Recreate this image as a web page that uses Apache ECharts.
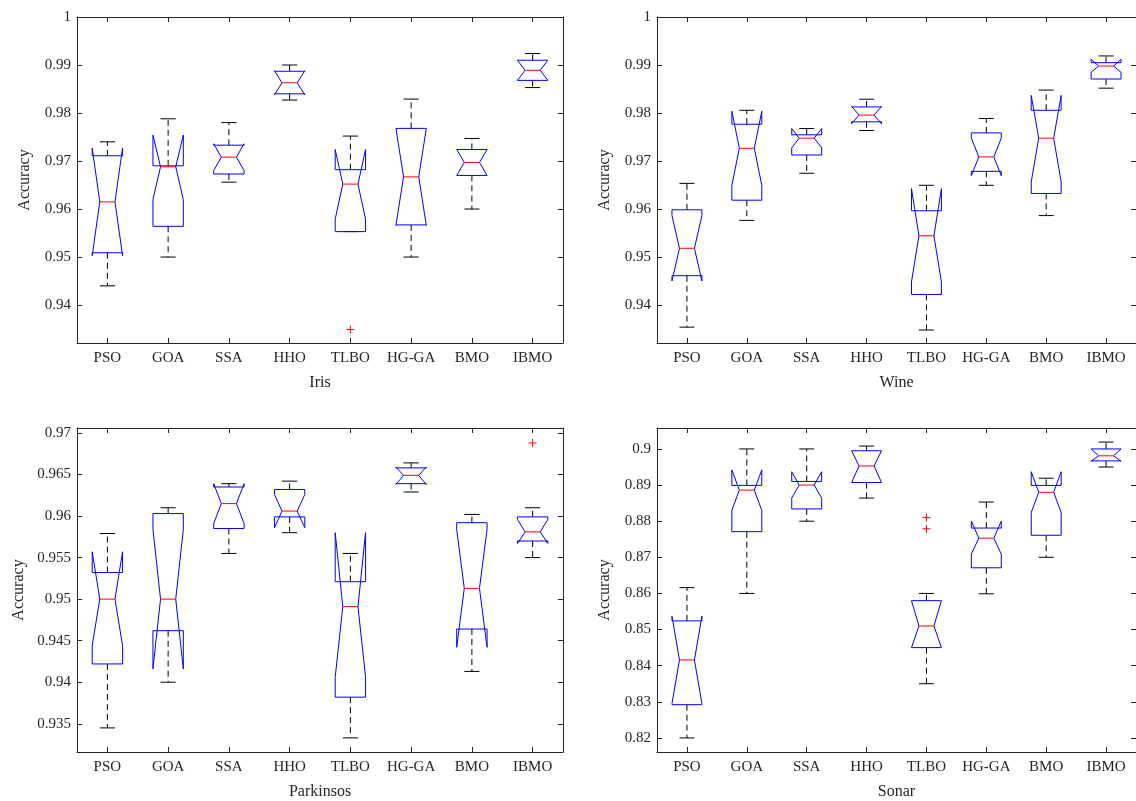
<!DOCTYPE html>
<html><head><meta charset="utf-8">
<script src="https://cdn.jsdelivr.net/npm/echarts@6/dist/echarts.min.js"></script>
<style>html,body{margin:0;padding:0;background:#fff}#c{width:1136px;height:801px}</style>
</head><body><div id="c"></div>
<script>
const categories = ['PSO','GOA','SSA','HHO','TLBO','HG-GA','BMO','IBMO'];

// each row: [lowerWhisker, q1, notchLow, median, notchHigh, q3, upperWhisker]
const irisStats = [
  [0.9440, 0.9509, 0.9503, 0.9615, 0.9727, 0.9711, 0.9740],
  [0.9500, 0.9564, 0.9620, 0.9688, 0.9754, 0.9690, 0.9788],
  [0.9656, 0.9673, 0.9680, 0.9708, 0.9736, 0.9733, 0.9780],
  [0.9827, 0.9840, 0.9838, 0.9863, 0.9888, 0.9887, 0.9900],
  [0.9553, 0.9553, 0.9579, 0.9652, 0.9724, 0.9682, 0.9752],
  [0.9500, 0.9567, 0.9566, 0.9667, 0.9768, 0.9768, 0.9829],
  [0.9600, 0.9670, 0.9670, 0.9697, 0.9724, 0.9724, 0.9747],
  [0.9853, 0.9868, 0.9868, 0.9889, 0.9910, 0.9910, 0.9924]
];
const irisOutliers = [[4, 0.9349]];
const irisTicks = [0.94, 0.95, 0.96, 0.97, 0.98, 0.99, 1];

const wineStats = [
  [0.9355, 0.9462, 0.9451, 0.9519, 0.9587, 0.9599, 0.9654],
  [0.9577, 0.9619, 0.9650, 0.9727, 0.9804, 0.9777, 0.9806],
  [0.9675, 0.9713, 0.9728, 0.9748, 0.9768, 0.9755, 0.9768],
  [0.9764, 0.9782, 0.9778, 0.9796, 0.9814, 0.9813, 0.9829],
  [0.9349, 0.9423, 0.9449, 0.9545, 0.9643, 0.9597, 0.9650],
  [0.9650, 0.9679, 0.9670, 0.9709, 0.9748, 0.9759, 0.9789],
  [0.9587, 0.9633, 0.9657, 0.9748, 0.9837, 0.9806, 0.9848],
  [0.9852, 0.9871, 0.9885, 0.9898, 0.9912, 0.9905, 0.9919]
];
const wineOutliers = [];
const wineTicks = [0.94, 0.95, 0.96, 0.97, 0.98, 0.99, 1];

const parkinsosStats = [
  [0.9345, 0.9422, 0.9444, 0.9500, 0.9557, 0.9532, 0.9579],
  [0.9400, 0.9462, 0.9416, 0.9500, 0.9584, 0.9603, 0.9610],
  [0.9555, 0.9585, 0.9591, 0.9615, 0.9639, 0.9635, 0.9639],
  [0.9580, 0.9599, 0.9586, 0.9606, 0.9626, 0.9632, 0.9642],
  [0.9333, 0.9382, 0.9406, 0.9491, 0.9580, 0.9521, 0.9555],
  [0.9629, 0.9639, 0.9638, 0.9649, 0.9659, 0.9658, 0.9664],
  [0.9413, 0.9464, 0.9442, 0.9513, 0.9584, 0.9592, 0.9602],
  [0.9550, 0.9570, 0.9567, 0.9581, 0.9596, 0.9599, 0.9610]
];
const parkinsosOutliers = [[7, 0.9688]];
const parkinsosTicks = [0.935, 0.94, 0.945, 0.95, 0.955, 0.96, 0.965, 0.97];

const sonarStats = [
  [0.8200, 0.8292, 0.8295, 0.8416, 0.8537, 0.8524, 0.8616],
  [0.8600, 0.8771, 0.8830, 0.8886, 0.8942, 0.8899, 0.9000],
  [0.8800, 0.8834, 0.8864, 0.8900, 0.8937, 0.8910, 0.9000],
  [0.8864, 0.8907, 0.8907, 0.8953, 0.8995, 0.8995, 0.9008],
  [0.8350, 0.8450, 0.8450, 0.8510, 0.8580, 0.8580, 0.8600],
  [0.8599, 0.8671, 0.8709, 0.8753, 0.8800, 0.8781, 0.8853],
  [0.8700, 0.8761, 0.8824, 0.8880, 0.8937, 0.8899, 0.8919],
  [0.8950, 0.8967, 0.8966, 0.8981, 0.9000, 0.9000, 0.9019]
];
const sonarOutliers = [[4, 0.8810], [4, 0.8779]];
const sonarTicks = [0.82, 0.83, 0.84, 0.85, 0.86, 0.87, 0.88, 0.89, 0.9];

const panels = [
  {title: 'Iris', stats: irisStats, outliers: irisOutliers, ticks: irisTicks, min: 0.9321, max: 1, left: 77, top: 17, height: 326},
  {title: 'Wine', stats: wineStats, outliers: wineOutliers, ticks: wineTicks, min: 0.9322, max: 1, left: 657, top: 17, height: 326},
  {title: 'Parkinsos', stats: parkinsosStats, outliers: parkinsosOutliers, ticks: parkinsosTicks, min: 0.9316, max: 0.9706, left: 77, top: 428, height: 325},
  {title: 'Sonar', stats: sonarStats, outliers: sonarOutliers, ticks: sonarTicks, min: 0.8161, max: 0.9058, left: 657, top: 428, height: 325}
];

const FONT = '"Liberation Serif", "Times New Roman", serif';
const AX = '#262626';

function renderBox(params, api) {
  const ci = api.value(0);
  const v = k => api.value(k);
  const low = v(1), q1 = v(2), nlo = v(3), med = v(4), nhi = v(5), q3 = v(6), high = v(7);
  const x = api.coord([ci, med])[0];
  const Y = val => api.coord([ci, val])[1];
  const bw = api.size([1, 0])[0] * 0.5;
  const h = bw / 2, inset = bw * 0.25, cap = bw * 0.25;
  const dash = {stroke: '#000', lineWidth: 1, lineDash: [6, 4], fill: null};
  const solid = {stroke: '#000', lineWidth: 1, fill: null};
  const pts = [
    [x - h, Y(q1)], [x - h, Y(nlo)], [x - h + inset, Y(med)], [x - h, Y(nhi)], [x - h, Y(q3)],
    [x + h, Y(q3)], [x + h, Y(nhi)], [x + h - inset, Y(med)], [x + h, Y(nlo)], [x + h, Y(q1)]
  ];
  return {
    type: 'group',
    children: [
      {type: 'line', shape: {x1: x, y1: Y(q3), x2: x, y2: Y(high)}, style: dash},
      {type: 'line', shape: {x1: x, y1: Y(q1), x2: x, y2: Y(low)}, style: dash},
      {type: 'line', shape: {x1: x - cap, y1: Y(high), x2: x + cap, y2: Y(high)}, style: solid},
      {type: 'line', shape: {x1: x - cap, y1: Y(low), x2: x + cap, y2: Y(low)}, style: solid},
      {type: 'polygon', shape: {points: pts}, style: {stroke: '#0000ff', lineWidth: 1, fill: null}},
      {type: 'line', shape: {x1: x - h + inset, y1: Y(med), x2: x + h - inset, y2: Y(med)}, style: {stroke: '#ff0000', lineWidth: 1}}
    ]
  };
}

function renderOutlier(params, api) {
  const p = api.coord([api.value(0), api.value(1)]);
  const s = 4;
  const st = {stroke: '#ff0000', lineWidth: 1};
  return {
    type: 'group',
    children: [
      {type: 'line', shape: {x1: p[0] - s, y1: p[1], x2: p[0] + s, y2: p[1]}, style: st},
      {type: 'line', shape: {x1: p[0], y1: p[1] - s, x2: p[0], y2: p[1] + s}, style: st}
    ]
  };
}

const grid = [], xAxis = [], yAxis = [], series = [];
panels.forEach((p, i) => {
  grid.push({left: p.left, top: p.top, width: 486, height: p.height});
  const tickBase = () => ({show: true, inside: true, length: 5, lineStyle: {color: AX, width: 1}});
  xAxis.push({
    type: 'category', gridIndex: i, data: categories, position: 'bottom',
    axisLine: {show: true, lineStyle: {color: AX, width: 1}},
    axisTick: Object.assign(tickBase(), {alignWithLabel: true, interval: 0}),
    axisLabel: {show: true, interval: 0, fontFamily: FONT, fontSize: 15, color: AX, margin: 8},
    splitLine: {show: false},
    name: p.title, nameLocation: 'middle', nameGap: 32,
    nameTextStyle: {fontFamily: FONT, fontSize: 16, color: AX}
  });
  xAxis.push({
    type: 'category', gridIndex: i, data: categories, position: 'top',
    axisLine: {show: true, lineStyle: {color: AX, width: 1}},
    axisTick: Object.assign(tickBase(), {alignWithLabel: true, interval: 0}),
    axisLabel: {show: false}, splitLine: {show: false}
  });
  yAxis.push({
    type: 'value', gridIndex: i, min: p.min, max: p.max, position: 'left',
    axisLine: {show: true, lineStyle: {color: AX, width: 1}},
    axisTick: Object.assign(tickBase(), {customValues: p.ticks}),
    axisLabel: {show: true, customValues: p.ticks, fontFamily: FONT, fontSize: 15, color: AX, margin: 6,
      formatter: val => String(val)},
    splitLine: {show: false},
    name: 'Accuracy', nameLocation: 'middle', nameRotate: 90, nameGap: i === 2 ? 50 : 44,
    nameTextStyle: {fontFamily: FONT, fontSize: 16, color: AX}
  });
  yAxis.push({
    type: 'value', gridIndex: i, min: p.min, max: p.max, position: 'right',
    axisLine: {show: true, lineStyle: {color: AX, width: 1}},
    axisTick: Object.assign(tickBase(), {customValues: p.ticks}),
    axisLabel: {show: false}, splitLine: {show: false}
  });
  series.push({
    type: 'custom', xAxisIndex: 2 * i, yAxisIndex: 2 * i,
    data: p.stats.map((s, k) => [k].concat(s)),
    encode: {x: 0, y: [1, 2, 3, 4, 5, 6, 7]},
    renderItem: renderBox, silent: true
  });
  series.push({
    type: 'custom', xAxisIndex: 2 * i, yAxisIndex: 2 * i,
    data: p.outliers,
    encode: {x: 0, y: 1},
    renderItem: renderOutlier, silent: true
  });
});

const chart = echarts.init(document.getElementById('c'), null, {renderer: 'canvas'});
chart.setOption({animation: false, backgroundColor: '#fff', grid, xAxis, yAxis, series});
</script>
</body></html>
